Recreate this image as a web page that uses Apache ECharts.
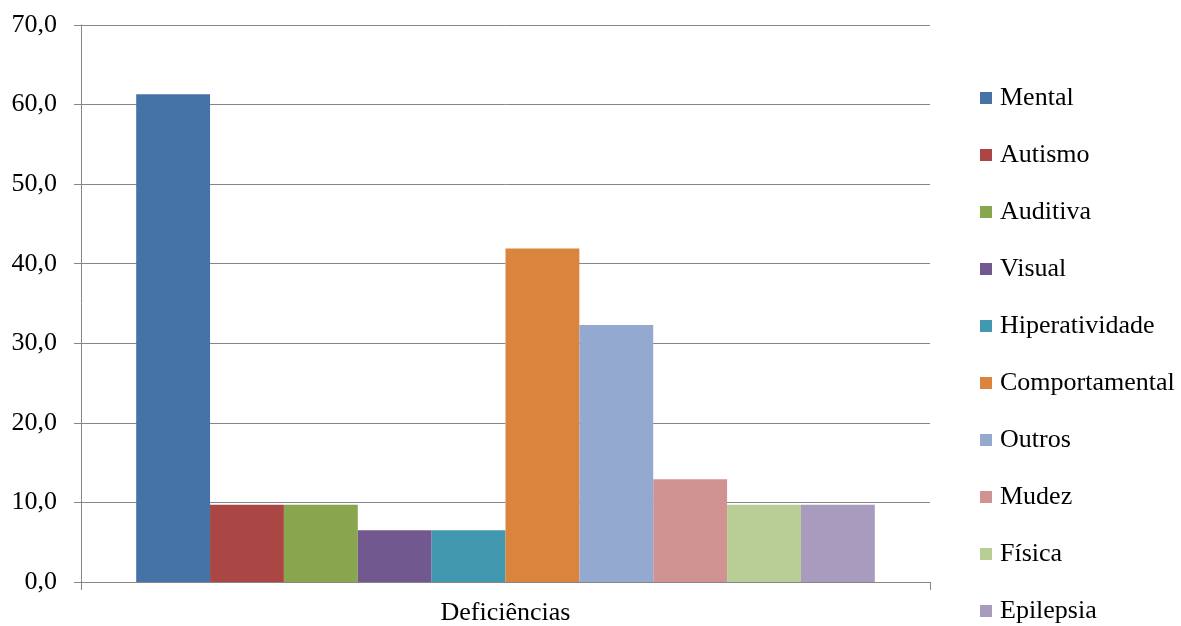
<!DOCTYPE html>
<html>
<head>
<meta charset="utf-8">
<script src="https://cdn.jsdelivr.net/npm/echarts@6/dist/echarts.min.js"></script>
<style>
html,body{margin:0;padding:0;background:#fff;}
#c{width:1181px;height:626px;}
</style>
</head>
<body>
<div id="c"></div>
<script>
const categories = ['Deficiências'];
const seriesNames = ['Mental','Autismo','Auditiva','Visual','Hiperatividade','Comportamental','Outros','Mudez','Física','Epilepsia'];
const seriesValues = [61.3, 9.7, 9.7, 6.5, 6.5, 41.9, 32.3, 12.9, 9.7, 9.7];
const seriesColors = ['#4572A7','#AA4643','#89A54E','#71588F','#4198AF','#DB843D','#93A9CF','#D19392','#B9CD96','#A99BBD'];
const yTicks = [0,10,20,30,40,50,60,70];

const font = '"Liberation Serif", "Times New Roman", serif';
const chart = echarts.init(document.getElementById('c'));
chart.setOption({
  animation: false,
  backgroundColor: '#fff',
  grid: {left: 81, right: 251, top: 25, bottom: 42},
  legend: {
    orient: 'vertical',
    left: 980,
    top: 85,
    height: 600,
    padding: 0,
    itemWidth: 12,
    itemHeight: 12,
    itemGap: 31,
    icon: 'rect',
    textStyle: {fontFamily: font, fontSize: 26, color: '#000', padding: [0,0,0,3]},
    data: seriesNames
  },
  xAxis: {
    type: 'category',
    data: categories,
    axisLine: {lineStyle: {color: '#868686', width: 1}},
    axisTick: {show: true, length: 8, lineStyle: {color: '#868686'}},
    axisLabel: {fontFamily: font, fontSize: 26, color: '#000', margin: 18}
  },
  yAxis: {
    type: 'value',
    min: yTicks[0],
    max: yTicks[yTicks.length-1],
    interval: 10,
    axisLine: {show: true, lineStyle: {color: '#868686', width: 1}},
    axisTick: {show: true, length: 7, lineStyle: {color: '#868686'}},
    splitLine: {lineStyle: {color: '#868686', width: 1}},
    axisLabel: {
      fontFamily: font, fontSize: 26, color: '#000', margin: 24,
      formatter: v => v.toFixed(1).replace('.', ',')
    }
  },
  series: seriesNames.map((n, i) => ({
    name: n,
    type: 'bar',
    data: [seriesValues[i]],
    barGap: '0%',
    barCategoryGap: '13%',
    itemStyle: {color: seriesColors[i]}
  }))
});
</script>
</body>
</html>
